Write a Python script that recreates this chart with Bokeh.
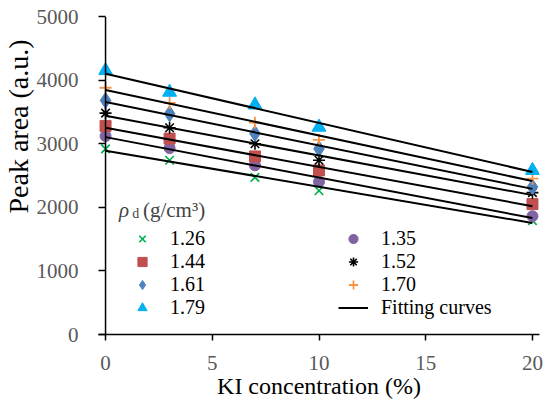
import numpy as np
from bokeh.plotting import figure
from bokeh.models import Range1d, Legend, LegendItem, Label, FixedTicker, Span, Title
from bokeh.embed import file_html
from bokeh.resources import INLINE

# ---- data ----
ki_conc = [0, 3, 7, 10, 20]
density_labels = ["1.26", "1.35", "1.44", "1.52", "1.61", "1.70", "1.79"]
area_126 = [2920, 2740, 2470, 2260, 1790]
area_135 = [3120, 2930, 2660, 2400, 1860]
area_144 = [3280, 3080, 2800, 2580, 2050]
area_152 = [3480, 3250, 3000, 2740, 2230]
area_161 = [3680, 3470, 3160, 2920, 2320]
area_170 = [3880, 3640, 3330, 3060, 2450]
area_179 = [4150, 3810, 3610, 3260, 2580]
x_ticks = [0, 5, 10, 15, 20]
y_ticks = [0, 1000, 2000, 3000, 4000, 5000]
fit_x = [0, 20]

series = [area_126, area_135, area_144, area_152, area_161, area_170, area_179]
styles = [
    dict(marker="x", size=12, line_color="#00B050", fill_color=None, line_width=1.7),
    dict(marker="circle", size=11, line_color="#8064A2", fill_color="#8064A2"),
    dict(marker="square", size=11, line_color="#C0504D", fill_color="#C0504D"),
    dict(marker="asterisk", size=12, line_color="black", fill_color=None, line_width=1.6),
    dict(marker="diamond", size=16, line_color="#4F81BD", fill_color="#4F81BD"),
    dict(marker="cross", size=12, line_color="#F79646", fill_color=None, line_width=1.8),
    dict(marker="triangle", size=14, line_color="#00B0F0", fill_color="#00B0F0"),
]

FONT = "Liberation Serif"

p = figure(width=550, height=404, output_backend="svg", toolbar_location=None,
           x_range=Range1d(-0.33, 20.33), y_range=Range1d(0, 5000),
           min_border_left=98, min_border_right=11, min_border_top=16,
           min_border_bottom=70)
p.outline_line_color = None
p.xgrid.visible = False
p.ygrid.visible = False
p.background_fill_color = "white"
p.border_fill_color = "white"

renderers = []
for vals, st in zip(series, styles):
    r = p.scatter(ki_conc, vals, **st)
    renderers.append(r)

fit_r = None
for vals in series:
    slope, intercept = np.polyfit(ki_conc, vals, 1)
    fy = [intercept + slope * fx for fx in fit_x]
    fit_r = p.line(fit_x, fy, line_color="black", line_width=2)

# y axis line at x = 0
p.add_layout(Span(location=0, dimension="height", line_color="black", line_width=1.5))

# axes
p.xaxis.ticker = FixedTicker(ticks=x_ticks)
p.yaxis.ticker = FixedTicker(ticks=y_ticks)
for ax in (p.xaxis[0], p.yaxis[0]):
    ax.axis_line_color = "black"
    ax.axis_line_width = 1.5
    ax.major_tick_line_color = "black"
    ax.major_tick_line_width = 1.5
    ax.minor_tick_line_color = None
    ax.major_label_text_font = FONT
    ax.major_label_text_font_size = "21px"
    ax.major_label_text_color = "#595959"
p.xaxis.major_tick_out = 6
p.xaxis.major_tick_in = 0
p.xaxis.major_label_standoff = 15
p.yaxis.axis_line_color = None
p.yaxis.major_tick_out = 0
p.yaxis.major_tick_in = 7
p.yaxis.major_label_standoff = 20

p.xaxis.axis_label = "KI concentration (%)"
p.xaxis.axis_label_text_font = FONT
p.xaxis.axis_label_text_font_size = "24px"
p.xaxis.axis_label_text_font_style = "normal"
p.xaxis.axis_label_text_color = "black"
p.xaxis.axis_label_standoff = 0

p.add_layout(Title(text="Peak area (a.u.)", align="left", offset=121, standoff=0,
                   text_font=FONT, text_font_size="28px", text_font_style="normal",
                   text_color="black"), "left")

# legend title: rho_d (g/cm3)
p.add_layout(Label(x=0.63, y=1965, text="\u03c1", text_font=FONT, text_font_style="italic",
                   text_font_size="21px", text_baseline="alphabetic", text_align="left"))
p.add_layout(Label(x=1.25, y=1900, text="d", text_font=FONT,
                   text_font_size="14px", text_baseline="alphabetic", text_align="left"))
p.add_layout(Label(x=1.75, y=1965, text="(g/cm\u00b3)", text_font=FONT,
                   text_font_size="21px", text_baseline="alphabetic", text_align="left"))

# legend: two columns (column-major fill)
order = [0, 2, 4, 6, 1, 3, 5]
items = [LegendItem(label=density_labels[i], renderers=[renderers[i]]) for i in order]
items.append(LegendItem(label="Fitting curves", renderers=[fit_r]))
legend = Legend(items=items, ncols=2, location=(29, 15),
                padding=0, margin=0, spacing=0,
                glyph_width=30, glyph_height=23, label_height=23,
                label_width=168, label_standoff=13,
                label_text_font=FONT, label_text_font_size="20px",
                label_text_color="black",
                border_line_color=None, background_fill_alpha=0)
p.add_layout(legend, "center")

open("out.html", "w").write(file_html(p, INLINE))
